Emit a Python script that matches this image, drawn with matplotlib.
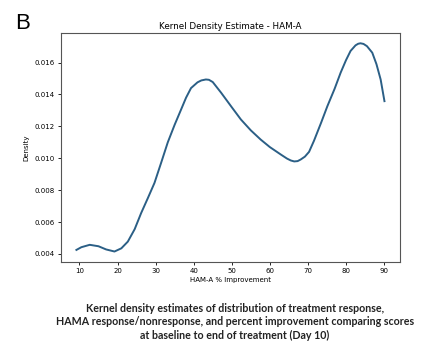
import matplotlib
matplotlib.use("Agg")
import matplotlib.pyplot as plt

# Values
improvement = [9.2, 10.5, 12.7, 15, 17, 19.2, 21, 22.7, 24.5, 26.2, 28, 29.7, 31.5,
               33.2, 35, 36.7, 38, 39.3, 41, 42, 43.2, 44, 45, 47.2, 50, 52.4, 55,
               57.6, 60, 62.9, 64.5, 65.5, 66.4, 67.3, 68.1, 69.2, 70.3, 71.6, 73.5,
               75.1, 77, 78.6, 80, 81.2, 82.5, 83.2, 83.8, 84.6, 85.5, 86.9, 88, 89.1,
               90.1]
density = [0.00425, 0.00442, 0.00457, 0.00448, 0.00428, 0.00415, 0.00435, 0.00477,
           0.00555, 0.00656, 0.00752, 0.00845, 0.00975, 0.01100, 0.01210, 0.01306,
           0.01380, 0.01440, 0.01476, 0.01488, 0.01494, 0.01492, 0.01478, 0.01411,
           0.01320, 0.01243, 0.01175, 0.01117, 0.01070, 0.01023, 0.00998, 0.00986,
           0.00980, 0.00982, 0.00992, 0.01010, 0.01040, 0.01110, 0.01225, 0.01326,
           0.01435, 0.01537, 0.01615, 0.01673, 0.01708, 0.01718, 0.01721, 0.01717,
           0.01703, 0.01662, 0.01590, 0.01494, 0.01358]
xticks = [10, 20, 30, 40, 50, 60, 70, 80, 90]
yticks = [0.004, 0.006, 0.008, 0.010, 0.012, 0.014, 0.016]

title = "Kernel Density Estimate - HAM-A"
xlabel = "HAM-A % Improvement"
ylabel = "Density"
caption = ("Kernel density estimates of distribution of treatment response,\n"
           "HAMA response/nonresponse, and percent improvement comparing scores\n"
           "at baseline to end of treatment (Day 10)")

fig = plt.figure(figsize=(4.37, 3.46), dpi=100)
ax = fig.add_axes([0.1396, 0.243, 0.7754, 0.662])
ax.plot(improvement, density, color="#2b5f86", lw=1.4, solid_joinstyle="round")
ax.set_xticks(xticks)
ax.set_yticks(yticks)
ax.set_yticklabels([f"{v:.3f}" for v in yticks])
ax.tick_params(labelsize=5, length=2.5, width=0.6, pad=2)
for s in ax.spines.values():
    s.set_linewidth(0.8)
    s.set_color("#555555")
ax.set_title(title, fontsize=6.3, pad=3)
ax.set_xlabel(xlabel, fontsize=5, labelpad=2)
ax.set_ylabel(ylabel, fontsize=5, labelpad=4)

fig.text(0.034, 1 - 29 / 346, "B", fontsize=16, family="Liberation Sans",
         va="baseline", ha="left")
fig.text(0.538, 1 - 322 / 346, caption, fontsize=7.7, family="Lato", weight="bold",
         ha="center", va="center", linespacing=1.25, color="#222222")

fig.savefig("out.png", dpi=100)
